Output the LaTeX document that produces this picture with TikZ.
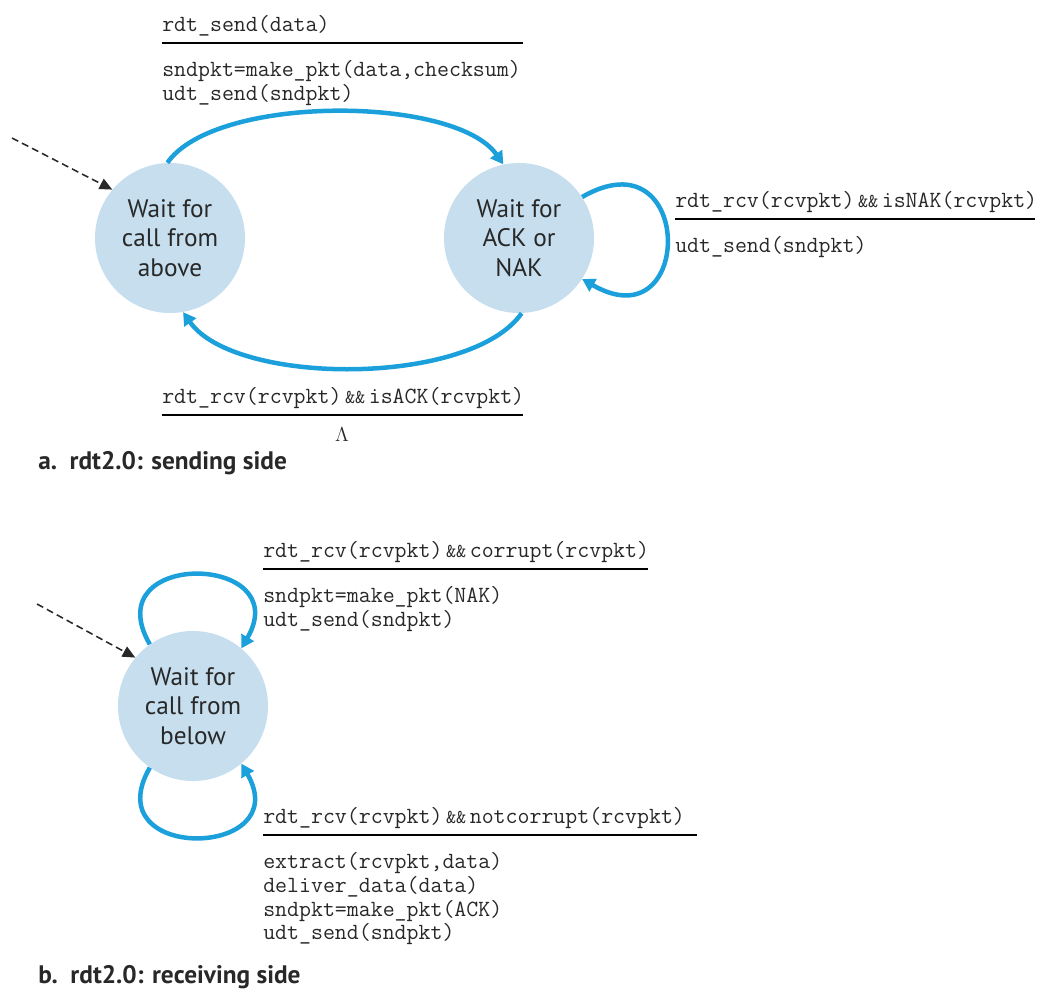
\documentclass[tikz,border=0pt]{standalone}
\usepackage{fontspec}
\setsansfont{PT Sans}
\usepackage{tikz}
\usepackage{xcolor}
\usetikzlibrary{positioning, arrows.meta}

\definecolor{statefill}{RGB}{198,222,237}
\definecolor{arcblue}{RGB}{27,160,219}
\definecolor{inkgray}{RGB}{40,40,40}

% narrow "&&" as printed in the guards
\newcommand{\lgand}{\hspace{2.5pt}{\fontsize{14}{14}\selectfont\&\&}\hspace{2.5pt}}

\begin{document}
\begin{tikzpicture}
[
x=0.025cm, y=0.025cm,
state-a/.style={circle, fill=statefill, minimum size=3.75cm, inner sep=0mm, align=center, text=inkgray, font=\sffamily\fontsize{18}{21}\selectfont},
code-a/.style={inner sep=0mm, align=left, text=inkgray, font=\ttfamily\fontsize{16.5}{17}\selectfont},
rule-a/.style={black, line width=1.4pt},
trans-a/.style={arcblue, line width=3.2pt, -{Triangle[length=9pt, width=10pt]}},
init-a/.style={inkgray, line width=1.1pt, dash pattern=on 5pt off 3pt, -{Triangle[length=9pt, width=8pt]}},
cap-a/.style={inner sep=0mm, anchor=west, text=inkgray, font=\sffamily\bfseries\fontsize{18}{21}\selectfont}
]
\useasboundingbox (0,0) rectangle (1050,-1004);

% sending side
\node (call-above) [state-a] at (170,-238) {Wait for\\call from\\above};
\node (ack-nak)    [state-a] at (519,-238) {Wait for\\ACK or\\NAK};
\coordinate (init-send) at (12,-138);

\coordinate (send-rule-l) at (162,-43);
\coordinate (send-rule-r) at (523,-43);
\node (send-ev)  [code-a, above right = 1.6mm and 0mm of send-rule-l] {rdt\_send(data)};
\node (send-act) [code-a, below right = 4.2mm and 0mm of send-rule-l] {sndpkt=make\_pkt(data,checksum)\\udt\_send(sndpkt)};

\coordinate (nak-rule-l) at (675,-219);
\coordinate (nak-rule-r) at (1035,-219);
\node (nak-ev)   [code-a, above right = 1.6mm and 0mm of nak-rule-l] {rdt\_rcv(rcvpkt)\lgand isNAK(rcvpkt)};
\node (nak-act)  [code-a, below right = 4.2mm and 0mm of nak-rule-l] {udt\_send(sndpkt)};

\coordinate (ack-rule-l) at (162,-415);
\coordinate (ack-rule-m) at (342,-415);
\coordinate (ack-rule-r) at (523,-415);
\node (ack-ev)   [code-a, above right = 1.6mm and 0mm of ack-rule-l] {rdt\_rcv(rcvpkt)\lgand isACK(rcvpkt)};
\node (ack-act)  [inner sep=0mm, text=inkgray, font=\fontsize{14}{16}\selectfont, below = 3mm of ack-rule-m] {$\Lambda$};

\draw [rule-a] (send-rule-l) -- (send-rule-r);
\draw [rule-a] (nak-rule-l) -- (nak-rule-r);
\draw [rule-a] (ack-rule-l) -- (ack-rule-r);

\draw [init-a]  (init-send) -- (call-above.140);
\draw [trans-a] (call-above.92) .. controls +(55:84) and +(125:84) .. (ack-nak.102);
\draw [trans-a] (ack-nak.-88) .. controls +(-125:90) and +(-55:90) .. (call-above.-80);
\draw [trans-a] (ack-nak.33) .. controls +(30:130) and +(-30:130) .. (ack-nak.-33);

\node (cap-send) [cap-a] at (38,-463) {a.\enspace rdt2.0: sending side};

% receiving side
\node (call-below) [state-a] at (193,-706) {Wait for\\call from\\below};
\coordinate (init-recv) at (37,-604);

\coordinate (bad-rule-l) at (263,-569);
\coordinate (bad-rule-r) at (648,-569);
\node (bad-ev)   [code-a, above right = 1.6mm and 0mm of bad-rule-l] {rdt\_rcv(rcvpkt)\lgand corrupt(rcvpkt)};
\node (bad-act)  [code-a, below right = 4.2mm and 0mm of bad-rule-l] {sndpkt=make\_pkt(NAK)\\udt\_send(sndpkt)};

\coordinate (good-rule-l) at (263,-835);
\coordinate (good-rule-r) at (697,-835);
\node (good-ev)  [code-a, above right = 1.6mm and 0mm of good-rule-l] {rdt\_rcv(rcvpkt)\lgand notcorrupt(rcvpkt)};
\node (good-act) [code-a, below right = 4.2mm and 0mm of good-rule-l] {extract(rcvpkt,data)\\deliver\_data(data)\\sndpkt=make\_pkt(ACK)\\udt\_send(sndpkt)};

\draw [rule-a] (bad-rule-l) -- (bad-rule-r);
\draw [rule-a] (good-rule-l) -- (good-rule-r);

\draw [init-a]  (init-recv) -- (call-below.140);
\draw [trans-a] (call-below.125) .. controls +(120:110) and +(60:110) .. (call-below.50);
\draw [trans-a] (call-below.-125) .. controls +(-120:110) and +(-60:110) .. (call-below.-50);

\node (cap-recv) [cap-a] at (38,-977) {b.\enspace rdt2.0: receiving side};
\end{tikzpicture}
\end{document}
